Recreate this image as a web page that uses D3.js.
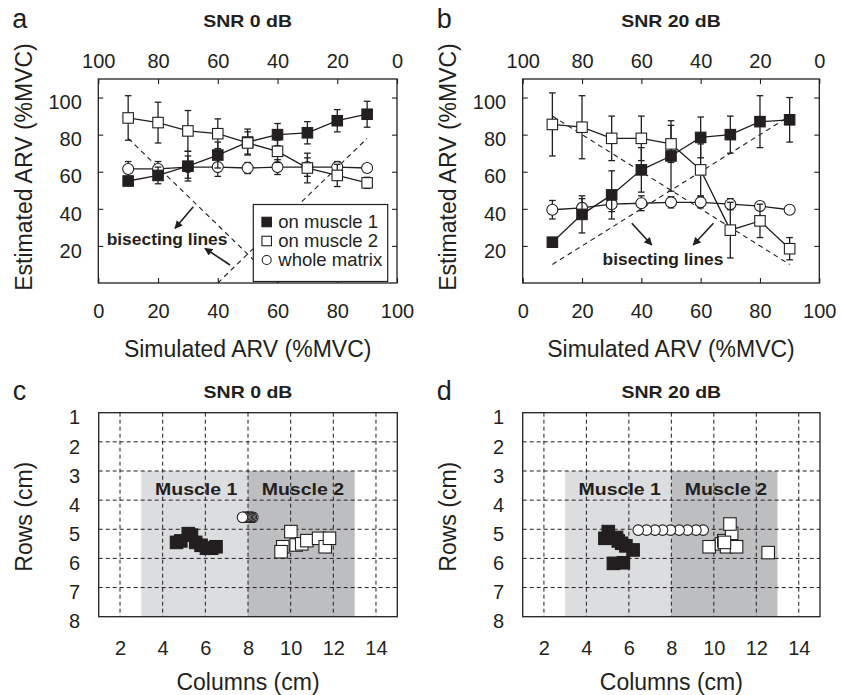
<!DOCTYPE html>
<html><head><meta charset="utf-8">
<script src="https://cdn.jsdelivr.net/npm/d3@7"></script>
<style>
body{margin:0;background:#fff}
svg text{font-family:"Liberation Sans",Arial,Helvetica,sans-serif;fill:#231f20}
</style>
</head><body>
<svg id="chart" width="842" height="695"></svg>
<script>
// ---------------- DATA ----------------
const levels = [10,20,30,40,50,60,70,80,90];
const xTicks = [0,20,40,60,80,100];
const xTopTicks = [100,80,60,40,20,0];
const yTicks = [20,40,60,80,100];
const colTicks = [2,4,6,8,10,12,14];
const rowTicks = [1,2,3,4,5,6,7,8];

// SNR 0 dB
const snr0Muscle1 = [55,58,63,69,76,80,81,87.5,91];
const snr0Muscle1Sd = [2,4.5,8,7,7,6,6,6,7];
const snr0Muscle2 = [89,86.5,82,80.5,75.5,71,62,58,54];
const snr0Muscle2Sd = [12,11,11,8,6,6,8,6,3];
const snr0Whole = [61.5,61.5,62.5,62.5,62,62.5,62.5,62.5,62];
const snr0WholeSd = [4,4,6,5,3,4,5,3,2];
// SNR 20 dB
const snr20Muscle1 = [22,37,47.5,61,68.5,78.5,80,87,88];
const snr20Muscle1Sd = [1,10,13,12,19,11,10,14,12];
const snr20Muscle2 = [85.5,84,78,78,75,61,28.5,33.5,18.5];
const snr20Muscle2Sd = [17,17,12,12,10,14,15,9,6];
const snr20Whole = [39.5,40.5,42.5,43,43.5,43.5,42.5,41.5,39.5];
const snr20WholeSd = [5,5,4,4,3,3,3,2,1];

// bisecting lines [x1,y1,x2,y2] in data units
const bisect0 = [[10,78,60,0],[40,0,90,78]];
const bisect20 = [[10,90,90,10],[10,10,90,90]];
const arrows0 = [[31.8,41.1,25.7,29.5],[44.1,9.7,35.7,18.7]];
const arrows20 = [[36.8,32.2,43.5,20.5],[64.3,32.2,57.5,20.5]];

// barycenters (columns, rows in cm)
const c0Muscle1Col = [4.65,4.85,5.2,5.35,5.55,5.8,6.05,6.3,6.5];
const c0Muscle1Row = [5.45,5.4,5.15,5.2,5.45,5.55,5.65,5.65,5.6];
const c0Muscle2Col = [10.01,9.63,9.55,10.26,10.52,10.76,11.31,11.62,11.82];
const c0Muscle2Row = [5.08,5.6,5.77,5.54,5.5,5.39,5.31,5.6,5.31];
const c0WholeCol = [7.74,7.8,7.86,7.92,7.98,8.04,8.1,8.16,8.23];
const c0WholeRow = [4.59,4.59,4.59,4.59,4.59,4.59,4.59,4.59,4.59];

const c20Muscle1Col = [5.03,4.87,5.42,5.66,5.86,6.2,5.27,5.74,5.5];
const c20Muscle1Row = [5.08,5.31,5.28,5.48,5.57,5.71,6.17,6.15,5.4];
const c20Muscle2Col = [9.78,10.36,10.47,10.6,10.84,10.76,11.07,12.56,10.5];
const c20Muscle2Row = [5.6,5.5,5.39,5.6,5.14,4.82,5.6,5.8,5.45];
const c20WholeCol = [6.44,6.83,7.23,7.59,7.96,8.37,8.76,9.16,9.5];
const c20WholeRow = [5.03,5.03,5.03,5.03,5.03,5.03,5.03,5.03,5.03];

const muscleRegions = [{name:"Muscle 1",c0:3,c1:8,r0:3,r1:8},{name:"Muscle 2",c0:8,c1:13,r0:3,r1:8}];
const legendLabels = ["on muscle 1","on muscle 2","whole matrix"];

// ---------------- DRAWING ----------------
const ink = "#231f20";
const svg = d3.select("#chart");
const defs = svg.append("defs");
defs.append("marker").attr("id","arrow").attr("viewBox","0 0 10 10")
  .attr("refX",9).attr("refY",5).attr("markerWidth",9).attr("markerHeight",8)
  .attr("markerUnits","userSpaceOnUse").attr("orient","auto")
  .append("path").attr("d","M0,0L10,5L0,10Z").attr("fill",ink);

const FONT = '"Liberation Sans",Arial,Helvetica,sans-serif';

function styleAxis(sel, size){
  sel.attr("font-size",size).attr("font-family",FONT).attr("color",ink);
  sel.select(".domain").remove();
  sel.selectAll("line").attr("stroke-width",1.1);
}

function wideBold(g, x, y, txt, size){
  g.append("g").attr("transform",`translate(${x},${y}) scale(1.16,1)`)
    .append("text").attr("text-anchor","middle").attr("font-size",size).attr("font-weight","bold").text(txt);
}

function marker(g, kind, cx, cy, s){
  if(kind==="circle"){
    g.append("circle").attr("cx",cx).attr("cy",cy).attr("r",s/2)
      .attr("fill","#fff").attr("stroke",ink).attr("stroke-width",1.1);
  } else {
    g.append("rect").attr("x",cx-s/2).attr("y",cy-s/2).attr("width",s).attr("height",s)
      .attr("fill",kind==="filled"?ink:"#fff").attr("stroke",ink).attr("stroke-width",1.1);
  }
}

function linePanel(box, series, bis, arrows, label, title, letter, legend){
  const x = d3.scaleLinear().domain([0,100]).range([box.x0,box.x1]);
  const xTop = d3.scaleLinear().domain([100,0]).range([box.x0,box.x1]);
  const y = d3.scaleLinear().domain([0,110]).range([box.y1,box.y0]);
  const g = svg.append("g");

  g.append("text").attr("x",box.x0-86).attr("y",28).attr("font-size",27).text(letter);
  wideBold(g,(box.x0+box.x1)/2,27,title,16.8);

  g.append("g").attr("transform",`translate(0,${box.y1})`)
    .call(d3.axisBottom(x).tickValues(xTicks).tickSize(-5).tickSizeOuter(0).tickPadding(21).tickFormat(d3.format("d")))
    .call(s=>styleAxis(s,20));
  g.append("g").attr("transform",`translate(0,${box.y0})`)
    .call(d3.axisTop(xTop).tickValues(xTopTicks).tickSize(-5).tickSizeOuter(0).tickPadding(11).tickFormat(d3.format("d")))
    .call(s=>styleAxis(s,20));
  g.append("g").attr("transform",`translate(${box.x0},0)`)
    .call(d3.axisLeft(y).tickValues(yTicks).tickSize(-5).tickSizeOuter(0).tickPadding(16.5).tickFormat(d3.format("d")))
    .call(s=>{styleAxis(s,20); s.selectAll("text").attr("dy","0.56em");});
  g.append("g").attr("transform",`translate(${box.x1},0)`)
    .call(d3.axisRight(y).tickValues(yTicks).tickSize(-5).tickSizeOuter(0).tickFormat(""))
    .call(s=>styleAxis(s,20));

  g.append("text").attr("x",(box.x0+box.x1)/2).attr("y",356.5).attr("text-anchor","middle")
    .attr("font-size",23).text("Simulated ARV (%MVC)");
  g.append("text").attr("transform",`translate(${box.x0-66.5},${167}) rotate(-90)`).attr("text-anchor","middle")
    .attr("font-size",23).text("Estimated ARV (%MVC)");

  // bisecting lines
  g.selectAll(".bis").data(bis).join("line")
    .attr("x1",d=>x(d[0])).attr("y1",d=>y(d[1])).attr("x2",d=>x(d[2])).attr("y2",d=>y(d[3]))
    .attr("stroke",ink).attr("stroke-width",1.1).attr("stroke-dasharray","5,4");

  const line = d3.line().x((d,i)=>x(levels[i])).y(d=>y(d));
  series.forEach(s=>{
    const sg = g.append("g");
    sg.append("path").attr("d",line(s.values)).attr("fill","none").attr("stroke",ink).attr("stroke-width",1.3);
    s.values.forEach((v,i)=>{
      const cx = x(levels[i]);
      const lo = y(v - s.sd[i]), hi = y(v + s.sd[i]);
      sg.append("line").attr("x1",cx).attr("x2",cx).attr("y1",lo).attr("y2",hi).attr("stroke",ink).attr("stroke-width",1.3);
      [lo,hi].forEach(yy=>sg.append("line").attr("x1",cx-3.3).attr("x2",cx+3.3).attr("y1",yy).attr("y2",yy).attr("stroke",ink).attr("stroke-width",1.3));
    });
    s.values.forEach((v,i)=>marker(sg, s.kind, x(levels[i]), y(v), s.kind==="circle"?11:10.5));
  });

  // legend
  if(legend){
    const lx = box.x0+155, ly = box.y0+125.5;
    const lg = g.append("g").attr("transform",`translate(${lx},${ly})`);
    lg.append("rect").attr("width",134.4).attr("height",77).attr("fill","#fff").attr("stroke",ink).attr("stroke-width",1.2);
    const kinds = ["filled","open","circle"];
    legendLabels.forEach((t,i)=>{
      const cy = 17.5 + i*19;
      marker(lg, kinds[i], 13.4, cy, kinds[i]==="circle"?9:9.5);
      lg.append("text").attr("x",25).attr("y",cy+6).attr("font-size",18.5).text(t);
    });
  }

  // arrows + label
  g.selectAll(".arr").data(arrows).join("line")
    .attr("x1",d=>x(d[0])).attr("y1",d=>y(d[1])).attr("x2",d=>x(d[2])).attr("y2",d=>y(d[3]))
    .attr("stroke",ink).attr("stroke-width",1.6).attr("marker-end","url(#arrow)");
  g.append("text").attr("x",x(label.x)).attr("y",y(label.y)).attr("text-anchor",label.anchor)
    .attr("font-size",17.4).attr("font-weight","bold").text("bisecting lines");

  g.append("rect").attr("x",box.x0).attr("y",box.y0).attr("width",box.x1-box.x0).attr("height",box.y1-box.y0)
    .attr("fill","none").attr("stroke",ink).attr("stroke-width",1.3);
}

function gridPanel(box, pts, title, letter){
  const x = d3.scaleLinear().domain([1,15]).range([box.x0,box.x1]);
  const y = d3.scaleLinear().domain([1,8]).range([box.y0,box.y1]);
  const g = svg.append("g");
  g.append("text").attr("x",box.x0-86).attr("y",400).attr("font-size",27).text(letter);
  wideBold(g,(box.x0+box.x1)/2,398,title,16.8);

  const fills = ["#dcdddf","#bdbec0"];
  muscleRegions.forEach((r,i)=>{
    g.append("rect").attr("x",x(r.c0)).attr("y",y(r.r0)).attr("width",x(r.c1)-x(r.c0)).attr("height",y(r.r1)-y(r.r0)).attr("fill",fills[i]);
  });
  // grid
  g.selectAll(".vg").data(colTicks).join("line").attr("x1",d=>x(d)).attr("x2",d=>x(d)).attr("y1",box.y0).attr("y2",box.y1)
    .attr("stroke",ink).attr("stroke-width",1).attr("stroke-dasharray","4,3");
  g.selectAll(".hg").data(rowTicks.slice(1,-1)).join("line").attr("y1",d=>y(d)).attr("y2",d=>y(d)).attr("x1",box.x0).attr("x2",box.x1)
    .attr("stroke",ink).attr("stroke-width",1).attr("stroke-dasharray","4,3");

  muscleRegions.forEach(r=>{
    wideBold(g, x((r.c0+r.c1)/2)+1.5, y(3.6)+6.2, r.name, 16.8);
  });

  // axes
  g.append("g").attr("transform",`translate(0,${box.y1})`)
    .call(d3.axisBottom(x).tickValues(colTicks).tickSize(0).tickPadding(24).tickFormat(d3.format("d")))
    .call(s=>styleAxis(s,20));
  g.append("g").attr("transform",`translate(${box.x0},0)`)
    .call(d3.axisLeft(y).tickValues(rowTicks).tickSize(0).tickPadding(18.5).tickFormat(d3.format("d")))
    .call(s=>{styleAxis(s,20); s.selectAll("text").attr("dy","0.56em");});
  g.append("text").attr("x",(box.x0+box.x1)/2).attr("y",690).attr("text-anchor","middle").attr("font-size",23).text("Columns (cm)");
  g.append("text").attr("transform",`translate(${box.x0-67},${516.7}) rotate(-90)`).attr("text-anchor","middle").attr("font-size",23).text("Rows (cm)");

  // points
  pts.m1c.forEach((c,i)=>marker(g,"filled",x(c),y(pts.m1r[i]),12.5));
  pts.m2c.forEach((c,i)=>marker(g,"open",x(c),y(pts.m2r[i]),12.5));
  for(let i=pts.wc.length-1;i>=0;i--) marker(g,"circle",x(pts.wc[i]),y(pts.wr[i]),10.5);

  g.append("rect").attr("x",box.x0).attr("y",box.y0).attr("width",box.x1-box.x0).attr("height",box.y1-box.y0)
    .attr("fill","none").attr("stroke",ink).attr("stroke-width",1.3);
}

const boxA = {x0:98.3,x1:397,y0:79,y1:283};
const boxB = {x0:522.7,x1:819.3,y0:79,y1:283};
const boxC = {x0:98.7,x1:397.3,y0:412.7,y1:616.7};
const boxD = {x0:522.7,x1:820,y0:412.7,y1:616.7};

linePanel(boxA, [
  {kind:"circle",values:snr0Whole,sd:snr0WholeSd},
  {kind:"filled",values:snr0Muscle1,sd:snr0Muscle1Sd},
  {kind:"open",values:snr0Muscle2,sd:snr0Muscle2Sd}
], bisect0, arrows0, {x:2.8,y:20.5,anchor:"start"}, "SNR 0 dB", "a", true);

linePanel(boxB, [
  {kind:"circle",values:snr20Whole,sd:snr20WholeSd},
  {kind:"filled",values:snr20Muscle1,sd:snr20Muscle1Sd},
  {kind:"open",values:snr20Muscle2,sd:snr20Muscle2Sd}
], bisect20, arrows20, {x:47.3,y:9.7,anchor:"middle"}, "SNR 20 dB", "b", false);

gridPanel(boxC, {m1c:c0Muscle1Col,m1r:c0Muscle1Row,m2c:c0Muscle2Col,m2r:c0Muscle2Row,wc:c0WholeCol,wr:c0WholeRow}, "SNR 0 dB", "c");
gridPanel(boxD, {m1c:c20Muscle1Col,m1r:c20Muscle1Row,m2c:c20Muscle2Col,m2r:c20Muscle2Row,wc:c20WholeCol,wr:c20WholeRow}, "SNR 20 dB", "d");
</script>
</body></html>
